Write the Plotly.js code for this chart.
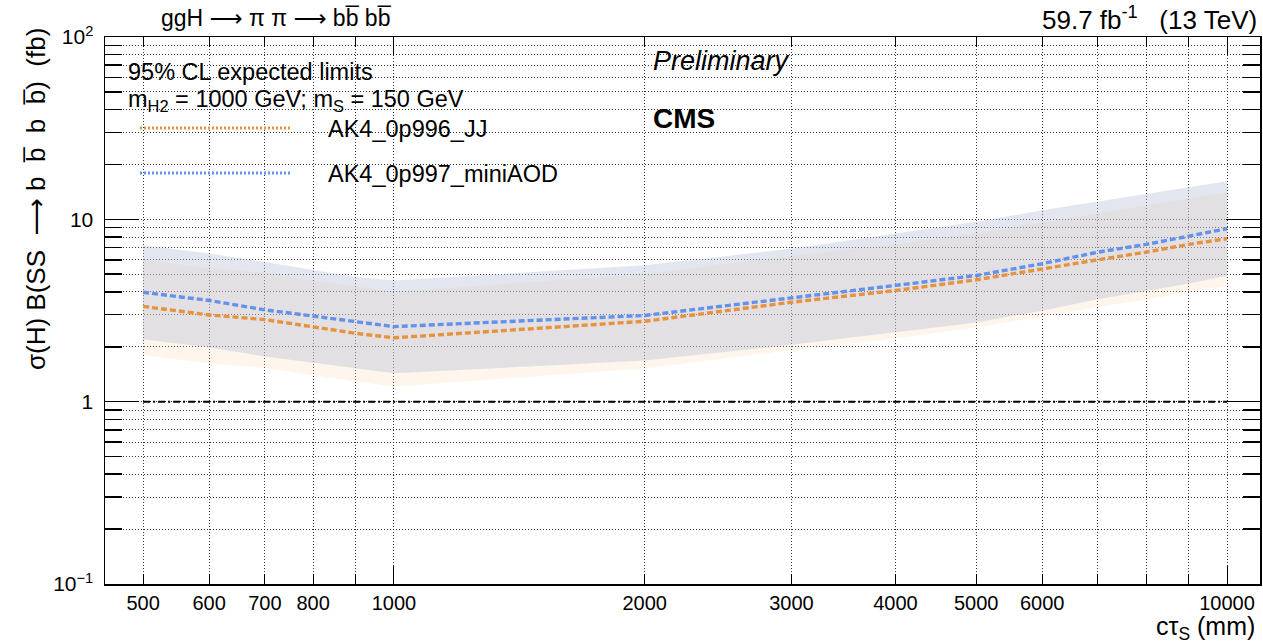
<!DOCTYPE html>
<html>
<head>
<meta charset="utf-8">
<script src="https://cdn.plot.ly/plotly-3.0.1.min.js"></script>
<style>html,body{margin:0;padding:0;background:#fff;}#chart{width:1263px;height:644px;}</style>
</head>
<body>
<div id="chart"></div>
<script>
// ---- data ----
const ctau = [500, 600, 700, 800, 900, 1000, 2000, 3000, 4000, 5000, 6000, 7000, 8000, 9000, 10000];

const jjCentral = [3.33, 2.99, 2.82, 2.56, 2.37, 2.24, 2.76, 3.51, 4.07, 4.66, 5.36, 6.00, 6.61, 7.29, 7.83];
const jjLow     = [1.80, 1.62, 1.53, 1.39, 1.29, 1.21, 1.52, 1.92, 2.22, 2.55, 2.93, 3.30, 3.62, 4.00, 4.30];
const jjHigh    = [6.00, 5.40, 5.10, 4.60, 4.30, 4.00, 5.00, 6.30, 7.30, 8.40, 9.60, 10.8, 11.9, 13.1, 14.1];

const miniCentral = [3.98, 3.59, 3.19, 2.94, 2.75, 2.58, 2.97, 3.69, 4.34, 4.92, 5.71, 6.61, 7.29, 8.09, 8.89];
const miniLow     = [2.20, 1.98, 1.77, 1.63, 1.52, 1.43, 1.68, 2.05, 2.40, 2.72, 3.15, 3.65, 4.05, 4.45, 4.90];
const miniHigh    = [7.20, 6.50, 5.83, 5.25, 4.82, 4.62, 5.60, 6.90, 8.40, 9.70, 11.2, 12.5, 13.8, 15.0, 16.2];

const refX = [500, 10000];
const refY = [1, 1];

const xTickVals = [500, 600, 700, 800, 1000, 2000, 3000, 4000, 5000, 6000, 10000];
const xTickText = ['500', '600', '700', '800', '1000', '2000', '3000', '4000', '5000', '6000', '10000'];
const xMinorVals = [900, 7000, 8000, 9000];
const xLongVals = [1000, 10000];
const yTickVals = [0.1, 1, 10, 100];
const yTickText = ['10<sup>\u22121</sup>', '1', '10', '10<sup>2</sup>'];
const yMinorVals = [0.2,0.3,0.4,0.5,0.6,0.7,0.8,0.9,2,3,4,5,6,7,8,9,20,30,40,50,60,70,80,90];

const seriesNames = ['AK4_0p996_JJ', 'AK4_0p997_miniAOD'];

// ---- styles ----
const FONT = 'Liberation Sans, Arial, Helvetica, sans-serif';
const ORANGE = 'rgb(232,146,62)';
const BLUE = 'rgb(100,145,235)';
const ARROW = '<span style="font-family:DejaVu Sans">\u27f6</span>';

// plot-area pixel helpers for text placement
const L = 105, T = 37, W = 1155, H = 547;
const px = x => (x - L) / W;
const py = y => (T + H - y) / H;

const traces = [
  {x: ctau, y: jjLow, mode: 'lines', line: {width: 0}, hoverinfo: 'skip', showlegend: false},
  {x: ctau, y: jjHigh, mode: 'lines', line: {width: 0}, fill: 'tonexty', fillcolor: 'rgba(252,214,170,0.22)', hoverinfo: 'skip', showlegend: false},
  {x: ctau, y: miniLow, mode: 'lines', line: {width: 0}, hoverinfo: 'skip', showlegend: false},
  {x: ctau, y: miniHigh, mode: 'lines', line: {width: 0}, fill: 'tonexty', fillcolor: 'rgba(182,190,212,0.38)', hoverinfo: 'skip', showlegend: false},
  {x: refX, y: refY, xaxis: 'x2', yaxis: 'y2', mode: 'lines', line: {color: 'black', width: 2, dash: '7px,3px,2px,3px'}, showlegend: false},
  {x: ctau, y: jjCentral, name: seriesNames[0], mode: 'lines', line: {color: ORANGE, width: 3.4, dash: '6px,3px'}, showlegend: false},
  {x: ctau, y: miniCentral, name: seriesNames[1], mode: 'lines', line: {color: BLUE, width: 3.4, dash: '6px,3px'}, showlegend: false}
];

const gridCommon = {showgrid: true, gridcolor: 'rgba(30,30,30,0.9)', gridwidth: 1, griddash: '1px,2px'};
const xRange = [Math.log10(450), Math.log10(10955)];

const layout = {
  width: 1263, height: 644,
  margin: {l: L, r: 1263 - L - W, t: T, b: 644 - T - H},
  paper_bgcolor: 'white', plot_bgcolor: 'white',
  font: {family: FONT, color: 'black', size: 20},
  showlegend: false,
  xaxis: Object.assign({
    type: 'log', range: xRange,
    tickmode: 'array', tickvals: xTickVals, ticktext: xTickText,
    ticks: 'inside', ticklen: 10, tickwidth: 1, tickcolor: 'black',
    showline: true, linecolor: 'black', linewidth: 1.5, mirror: 'allticks',
    tickfont: {size: 20, family: FONT}, ticklabelstandoff: 0, zeroline: false,
    minor: Object.assign({tickmode: 'array', tickvals: xMinorVals, ticks: 'inside', ticklen: 10, tickwidth: 1, tickcolor: 'black'}, gridCommon)
  }, gridCommon),
  xaxis2: {
    type: 'log', range: xRange, overlaying: 'x', anchor: 'y2', side: 'bottom',
    tickmode: 'array', tickvals: xLongVals, showticklabels: false,
    ticks: 'inside', ticklen: 18, tickwidth: 1, tickcolor: 'black', mirror: 'allticks', showline: true, linecolor: 'black', linewidth: 1.5,
    showgrid: false, zeroline: false
  },
  yaxis: Object.assign({
    type: 'log', range: [-1, 2],
    tickmode: 'array', tickvals: yTickVals, ticktext: yTickText,
    ticks: 'inside', ticklen: 34, tickwidth: 1.5, tickcolor: 'black',
    showline: true, linecolor: 'black', linewidth: 1.5, mirror: 'allticks',
    tickfont: {size: 21, family: FONT}, ticklabelstandoff: 6, zeroline: false
  }, gridCommon),
  yaxis2: Object.assign({
    type: 'log', range: [-1, 2], overlaying: 'y', anchor: 'x2', side: 'left',
    tickmode: 'array', tickvals: yMinorVals, showticklabels: false,
    ticks: 'inside', ticklen: 17, tickwidth: 1.5, tickcolor: 'black', mirror: 'allticks', showline: true, linecolor: 'black', linewidth: 1.5,
    zeroline: false
  }, gridCommon),
  shapes: [
    {type: 'line', xref: 'paper', yref: 'paper', x0: px(140), x1: px(290), y0: py(128), y1: py(128), line: {color: ORANGE, width: 3, dash: '2px,2px'}},
    {type: 'line', xref: 'paper', yref: 'paper', x0: px(140), x1: px(290), y0: py(173), y1: py(173), line: {color: BLUE, width: 3, dash: '2px,2px'}}
  ],
  annotations: [
    {xref: 'paper', yref: 'paper', x: px(159), y: py(18), xanchor: 'left', yanchor: 'middle', showarrow: false,
     text: 'ggH ' + ARROW + ' \u03c0 \u03c0 ' + ARROW + ' bb\u0305 bb\u0305', font: {size: 23}},
    {xref: 'paper', yref: 'paper', x: px(1259), y: py(18), xanchor: 'right', yanchor: 'middle', showarrow: false,
     text: '59.7 fb<sup>-1</sup>\u00a0\u00a0\u00a0(13 TeV)', font: {size: 26}},
    {xref: 'paper', yref: 'paper', x: px(126), y: py(72), xanchor: 'left', yanchor: 'middle', showarrow: false,
     text: '95% CL expected limits', font: {size: 23.5}},
    {xref: 'paper', yref: 'paper', x: px(126), y: py(101), xanchor: 'left', yanchor: 'middle', showarrow: false,
     text: 'm<sub>H2</sub> = 1000 GeV; m<sub>S</sub> = 150 GeV', font: {size: 23.5}},
    {xref: 'paper', yref: 'paper', x: px(651), y: py(61), xanchor: 'left', yanchor: 'middle', showarrow: false,
     text: '<i>Preliminary</i>', font: {size: 27}},
    {xref: 'paper', yref: 'paper', x: px(651), y: py(118), xanchor: 'left', yanchor: 'middle', showarrow: false,
     text: '<b>CMS</b>', font: {size: 28}},
    {xref: 'paper', yref: 'paper', x: px(326), y: py(129), xanchor: 'left', yanchor: 'middle', showarrow: false,
     text: seriesNames[0], font: {size: 23.5}},
    {xref: 'paper', yref: 'paper', x: px(326), y: py(174), xanchor: 'left', yanchor: 'middle', showarrow: false,
     text: seriesNames[1], font: {size: 23.5}},
    {xref: 'paper', yref: 'paper', x: px(1257), y: py(628), xanchor: 'right', yanchor: 'middle', showarrow: false,
     text: 'c\u03c4<sub>S</sub> (mm)', font: {size: 25}},
    {xref: 'paper', yref: 'paper', x: px(36), y: py(26), xanchor: 'center', yanchor: 'top', showarrow: false, textangle: -90,
     text: '\u03c3(H) B(SS  ' + ARROW + ' b  b\u0305  b  b\u0305)  (fb)', font: {size: 26}}
  ]
};

Plotly.newPlot('chart', traces, layout, {displayModeBar: false, staticPlot: true});
</script>
</body>
</html>
